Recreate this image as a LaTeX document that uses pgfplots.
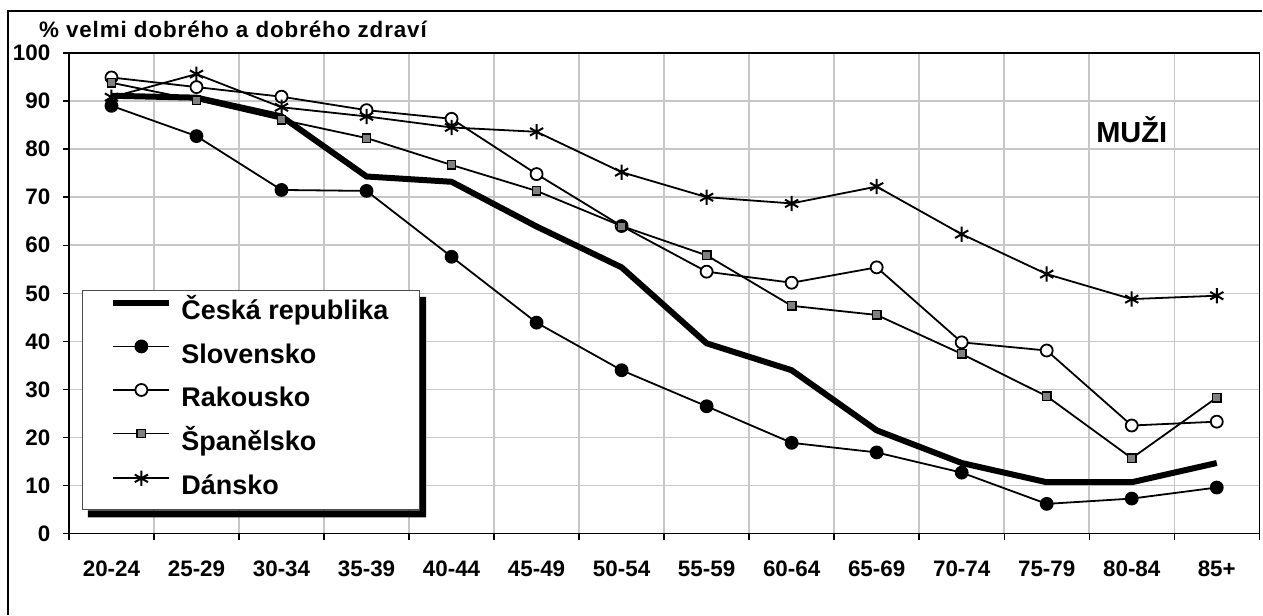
\documentclass[border=0pt]{standalone}
\usepackage{fontspec}
\setmainfont{Liberation Sans}
\usepackage{pgfplots}
\usepackage{pgfplotstable}
\pgfplotsset{compat=1.18}

\pgfplotstableread{
x cz sk at es dk
0 91.1 89.0 94.9 93.8 90.8
1 90.7 82.7 92.9 90.2 95.6
2 86.8 71.5 90.9 86.1 88.7
3 74.3 71.3 88.1 82.3 86.8
4 73.2 57.6 86.3 76.7 84.5
5 63.9 43.9 74.8 71.3 83.6
6 55.4 34.0 64.0 64.0 75.2
7 39.6 26.5 54.5 57.9 70.0
8 34.0 18.9 52.2 47.4 68.7
9 21.5 16.9 55.4 45.5 72.2
10 14.7 12.7 39.8 37.4 62.3
11 10.7 6.2 38.1 28.6 54.0
12 10.7 7.3 22.5 15.7 48.8
13 14.7 9.6 23.3 28.3 49.5
}\data

\begin{document}
\begin{tikzpicture}
\begin{axis}[
  scale only axis, width=595.5bp, height=240.5bp,
  xmin=-0.5, xmax=13.5, ymin=0, ymax=100,
  xtick={0,...,13},
  xticklabels={20-24,25-29,30-34,35-39,40-44,45-49,50-54,55-59,60-64,65-69,70-74,75-79,80-84,85+},
  minor xtick={-0.5,0.5,...,13.5},
  ytick={0,10,...,100},
  xminorgrids, ymajorgrids,
  major x tick style={draw=none},
  grid style={black!22, line width=0.75bp},
  minor grid style={black!22, line width=0.75bp},
  axis line style={black, line width=0.7bp},
  tick style={black, line width=0.7bp},
  major tick length=3bp, minor tick length=3bp,
  tick align=outside, tick pos=left,
  /pgf/number format/assume math mode=true,
  ticklabel style={font=\bfseries\fontsize{11.2bp}{13bp}\selectfont},
  xticklabel style={yshift=-7bp},
  yticklabel style={xshift=-2.8bp},
  legend style={name=leg, at={(0.0109,0.507)}, anchor=north west, draw=black!70, line width=0.5bp, fill=white,
    font=\bfseries\fontsize{13.5bp}{15bp}\selectfont,
    inner xsep=14bp, inner ysep=3bp, row sep=5.8bp,
    nodes={inner sep=1.5bp, text height=10bp, text depth=3bp},
    /tikz/every odd column/.append style={column sep=3bp}},
  legend cell align=left,
  legend image code/.code={\draw[mark repeat=2,mark phase=2,#1] plot coordinates {(0bp,4.8bp) (14bp,4.8bp) (28bp,4.8bp)};},
]
\addplot[black, line width=3bp, no markers] table[x=x,y=cz] {\data};
\addlegendentry{Česká republika}
\addplot[black, line width=0.9bp, mark=*, mark size=3bp, mark options={fill=black, solid}] table[x=x,y=sk] {\data};
\addlegendentry{Slovensko}
\addplot[black, line width=0.9bp, mark=*, mark size=3bp, mark options={fill=white, solid}] table[x=x,y=at] {\data};
\addlegendentry{Rakousko}
\addplot[black, line width=0.9bp, mark=square*, mark size=2.1bp, mark options={fill=black!50, solid, line width=0.7bp}] table[x=x,y=es] {\data};
\addlegendentry{Španělsko}
\addplot[black, line width=0.9bp, mark=asterisk, mark size=3.8bp, mark options={solid, line width=1bp}] table[x=x,y=dk] {\data};
\addlegendentry{Dánsko}
\node[anchor=base, font=\bfseries\fontsize{14.5bp}{16bp}\selectfont] at (axis cs:12,81.3) {MUŽI};
\end{axis}
% legend shadow (visible L-shaped part)
\fill[black] ([xshift=3bp,yshift=-3.5bp]leg.south west) -- ([xshift=3.2bp,yshift=-3.5bp]leg.south east)
  -- ([xshift=3.2bp,yshift=-3.5bp]leg.north east) -- ([yshift=-3.5bp]leg.north east)
  -- (leg.south east) -- ([xshift=3bp]leg.south west) -- cycle;
\node[anchor=base west, font=\bfseries\fontsize{11.2bp}{13bp}\selectfont\addfontfeatures{LetterSpace=4}] at (-18.5bp,248bp) {\% velmi dobrého a dobrého zdraví};
\draw[black, line width=0.75bp] (-30.5bp,-40.5bp) -- (-30.5bp,261.5bp) -- (597bp,261.5bp);
\path (-34.5bp,-40.5bp) rectangle (597bp,267bp);
\end{tikzpicture}
\end{document}
